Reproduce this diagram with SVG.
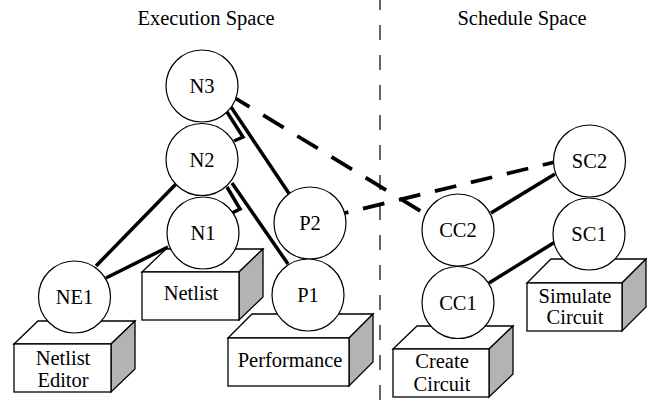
<svg xmlns="http://www.w3.org/2000/svg" width="647" height="408" viewBox="0 0 647 408" font-family="'Liberation Serif', serif">
  <style>
    text { font-family: 'Liberation Serif', 'DejaVu Serif', serif; font-size: 20.5px; fill: #000; text-anchor: middle; }
    .node circle { fill: #fff; stroke: #000; stroke-width: 1.2; }
    .face { fill: #fff; stroke: #000; stroke-width: 1.3; stroke-linejoin: miter; }
    .side { fill: #b3b3b3; stroke: #000; stroke-width: 1.3; }
    .link { stroke: #000; stroke-width: 3.5; fill: none; stroke-linecap: butt; stroke-linejoin: miter; }
    .dash { stroke: #000; stroke-width: 3.8; fill: none; }
    .divider { stroke: #000; stroke-width: 1.2; stroke-dasharray: 15 15; stroke-dashoffset: 5; }
  </style>

  <!-- space headings and divider -->
  <text x="206" y="25">Execution Space</text>
  <text x="522" y="25">Schedule Space</text>
  <line class="divider" x1="380" y1="0" x2="380" y2="408"/>

  <!-- data objects (boxes) -->
  <g id="box-netlist-editor">
    <polygon class="face" points="14,344 38,321 135,321 111,344"/>
    <polygon class="side" points="111,344 135,321 135,369 111,392"/>
    <rect class="face" x="14" y="344" width="97" height="48"/>
    <text x="63" y="365">Netlist</text>
    <text x="63" y="387">Editor</text>
  </g>
  <g id="box-netlist">
    <polygon class="face" points="142,272 166,249 263,249 239,272"/>
    <polygon class="side" points="239,272 263,249 263,297 239,320"/>
    <rect class="face" x="142" y="272" width="97" height="48"/>
    <text x="191" y="300">Netlist</text>
  </g>
  <g id="box-performance">
    <polygon class="face" points="228,338 252,314 373,314 349,338"/>
    <polygon class="side" points="349,338 373,314 373,362 349,386"/>
    <rect class="face" x="228" y="338" width="121" height="48"/>
    <text x="290" y="367">Performance</text>
  </g>
  <g id="box-create-circuit">
    <polygon class="face" points="393,349 417,326 513,326 489,349"/>
    <polygon class="side" points="489,349 513,326 513,374 489,397"/>
    <rect class="face" x="393" y="349" width="96" height="48"/>
    <text x="442" y="368">Create</text>
    <text x="442" y="391">Circuit</text>
  </g>
  <g id="box-simulate-circuit">
    <polygon class="face" points="527,283 551,259 646,259 622,283"/>
    <polygon class="side" points="622,283 646,259 646,307 622,331"/>
    <rect class="face" x="527" y="283" width="95" height="48"/>
    <text x="575" y="303">Simulate</text>
    <text x="575" y="324">Circuit</text>
  </g>

  <!-- connectors -->
  <g id="connectors">
    <line class="link" x1="96" y1="266" x2="176" y2="184"/>
    <line class="link" x1="106" y1="278" x2="168" y2="247"/>
    <line class="link" x1="231" y1="107" x2="290" y2="195"/>
    <polyline class="link" points="227,112 243,137 234,141"/>
    <line class="link" x1="232" y1="183" x2="288" y2="264"/>
    <polyline class="link" points="227,187 240,209 232,213"/>
    <line class="link" x1="491" y1="213" x2="555" y2="174"/>
    <line class="link" x1="489" y1="283" x2="555" y2="242"/>
    <line class="dash" x1="235" y1="98" x2="422" y2="212" stroke-dasharray="24 16" stroke-dashoffset="7"/>
    <line class="dash" x1="345" y1="213" x2="555" y2="162" stroke-dasharray="22 15" stroke-dashoffset="18.5"/>
  </g>

  <!-- processes -->
  <g id="N3" class="node"><circle cx="202" cy="86" r="36"/><text x="202" y="93">N3</text></g>
  <g id="N2" class="node"><circle cx="202" cy="159.5" r="36"/><text x="202" y="167">N2</text></g>
  <g id="N1" class="node"><circle cx="203" cy="233" r="36"/><text x="203" y="240">N1</text></g>
  <g id="P2" class="node"><circle cx="310" cy="223" r="36"/><text x="310" y="230">P2</text></g>
  <g id="P1" class="node"><circle cx="308" cy="295" r="36"/><text x="308" y="302">P1</text></g>
  <g id="NE1" class="node"><circle cx="74.5" cy="297" r="36"/><text x="74.5" y="304">NE1</text></g>
  <g id="CC2" class="node"><circle cx="458" cy="230" r="36"/><text x="458" y="237">CC2</text></g>
  <g id="CC1" class="node"><circle cx="458" cy="302.5" r="36"/><text x="458" y="310">CC1</text></g>
  <g id="SC2" class="node"><circle cx="589.5" cy="161" r="36"/><text x="589.5" y="168">SC2</text></g>
  <g id="SC1" class="node"><circle cx="589" cy="234" r="36"/><text x="589" y="241">SC1</text></g>
</svg>
